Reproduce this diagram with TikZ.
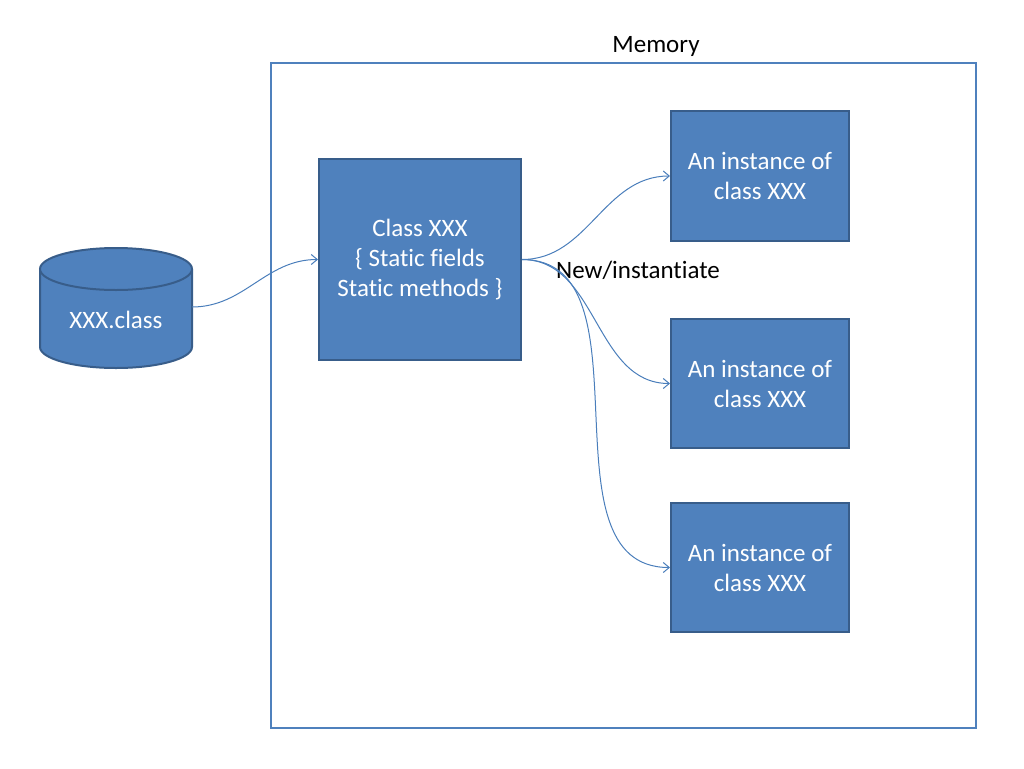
\documentclass[tikz,border=0pt]{standalone}
\usepackage{fontspec}
\setmainfont[RawFeature={-liga;-clig;-dlig}]{Carlito}
\usetikzlibrary{arrows.meta}
\definecolor{boxfill}{HTML}{4F81BD}
\definecolor{boxline}{HTML}{385D8A}
\definecolor{linkline}{HTML}{4A7EBB}
\begin{document}
\begin{tikzpicture}[x=1pt,y=-1pt,
    block/.style={draw=boxline, line width=2pt, fill=boxfill, text=white,
      align=center, inner sep=0pt, font=\fontsize{25}{30}\selectfont},
    link/.style={draw=linkline, line width=1pt,
      -{Straight Barb[length=6pt,width=10pt]}}]
    \useasboundingbox (0,0) rectangle (1024,768);
    % memory area
    \node[draw=boxfill, line width=2.2pt, minimum width=705pt, minimum height=665pt,
      inner sep=0pt] (mem) at (623.5,395.5) {};
    \node[font=\fontsize{25}{30}\selectfont] (memlabel) at (656,46) {Memory};
    % class file on disk
    \fill[boxfill] (40,269) -- (40,347) arc[start angle=180, end angle=0, x radius=76, y radius=21]
      -- (192,269) arc[start angle=0, end angle=180, x radius=76, y radius=21] -- cycle;
    \draw[boxline, line width=2pt] (40,269) -- (40,347) arc[start angle=180, end angle=0, x radius=76, y radius=21]
      -- (192,269);
    \draw[boxline, line width=2pt, fill=boxfill] (116,269) ellipse[x radius=76, y radius=21];
    \node[text=white, font=\fontsize{25}{30}\selectfont] (xxxfile) at (116,320) {XXX.class};
    \coordinate (fileout) at (192,307);
    % loaded class and its instances
    \node[block, minimum width=202pt, minimum height=201pt] (cls) at (420,259.5)
      {Class XXX\\\{ Stat\kern0pt ic f\kern0pt ields\\Stat\kern0pt ic methods \}};
    \node[block, minimum width=178pt, minimum height=130pt] (inst1) at (760,176)
      {An instance of\\class XXX};
    \node[block, minimum width=178pt, minimum height=129pt] (inst2) at (760,383.5)
      {An instance of\\class XXX};
    \node[block, minimum width=178pt, minimum height=129pt] (inst3) at (760,567.5)
      {An instance of\\class XXX};
    \node[font=\fontsize{25}{30}\selectfont] (newlabel) at (638,270) {New/instant\kern0pt iate};
    % connectors
    \draw[link] (fileout) to[out=0, in=180] (cls.west);
    \draw[link] (cls.east) to[out=0, in=180] (inst1.west);
    \draw[link] (cls.east) to[out=0, in=180] (inst2.west);
    \draw[link] (cls.east) to[out=0, in=180] (inst3.west);
  \end{tikzpicture}
\end{document}
